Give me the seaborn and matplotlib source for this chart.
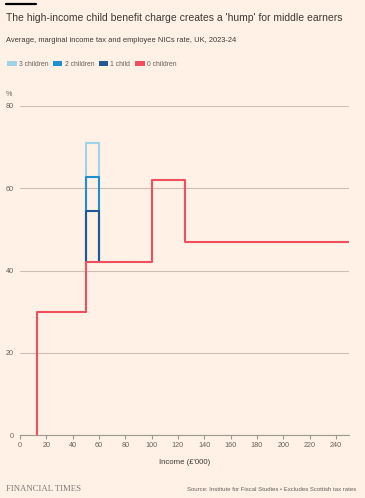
import matplotlib
matplotlib.use("Agg")
import matplotlib.pyplot as plt
from matplotlib.patches import Patch
import pandas as pd
import seaborn as sns

# income thresholds (£'000) and marginal rates (%)
no_child_income = [12.57, 12.57, 50.27, 100, 125.14, 250]
no_child_rate = [0, 30, 42, 62, 47, 47]

hicbc_income = [50, 50, 60]
one_child_rate = [42, 54.5, 42]
two_children_rate = [42, 62.8, 42]
three_children_rate = [42, 71, 42]

series = ["3 children", "2 children", "1 child", "0 children"]
colors = ["#9fd3e8", "#1f8fcf", "#1f5a94", "#f0505d"]

x_ticks = list(range(0, 260, 20))
y_ticks = [0, 20, 40, 60, 80]

rows = []
for name, xs, ys in [
    ("3 children", hicbc_income, three_children_rate),
    ("2 children", hicbc_income, two_children_rate),
    ("1 child", hicbc_income, one_child_rate),
    ("0 children", no_child_income, no_child_rate),
]:
    for x, y in zip(xs, ys):
        rows.append({"series": name, "income": x, "rate": y})
df = pd.DataFrame(rows)

bg = "#fff1e5"
text_dark = "#3d3936"
text_grey = "#66605c"

sns.set_theme(style="white")
plt.rcParams["font.family"] = ["Liberation Sans", "DejaVu Sans"]

fig = plt.figure(figsize=(3.65, 4.98), dpi=100, facecolor=bg)
ax = fig.add_axes([20 / 365, 63 / 498, 329 / 365, 329 / 498], facecolor=bg)

for name, col in zip(series, colors):
    sub = df[df["series"] == name]
    sns.lineplot(data=sub, x="income", y="rate", sort=False, estimator=None,
                 color=col, linewidth=1.5, drawstyle="steps-post", ax=ax,
                 legend=False)

ax.set_xlim(0, 250)
ax.set_ylim(0, 80)
ax.set_xticks(x_ticks)
ax.set_yticks(y_ticks)
ax.grid(axis="y", color="#cdbfb3", linewidth=0.8)
ax.grid(axis="x", visible=False)
for s in ["top", "right", "left"]:
    ax.spines[s].set_visible(False)
ax.spines["bottom"].set_color("#a09890")
ax.spines["bottom"].set_linewidth(0.8)
ax.tick_params(axis="x", bottom=True, length=3, width=0.8, color="#a09890",
               labelsize=5.2, labelcolor=text_grey, pad=2)
ax.tick_params(axis="y", left=False, length=0, labelsize=5.2,
               labelcolor=text_grey, pad=4.5)
ax.set_xlabel("Income (£'000)", fontsize=5.6, color=text_dark, labelpad=7)
ax.set_ylabel("")

fig.text(6 / 365, 1 - 94 / 498, "%", fontsize=5.2, color=text_grey, va="center")

# header
fig.add_artist(plt.Line2D([6 / 365, 36 / 365], [1 - 4.5 / 498, 1 - 4.5 / 498],
                          color="black", linewidth=1.6))
fig.text(6 / 365, 1 - 18 / 498,
         "The high-income child benefit charge creates a 'hump' for middle earners",
         fontsize=7.45, color=text_dark, va="center")
fig.text(6 / 365, 1 - 41 / 498,
         "Average, marginal income tax and employee NICs rate, UK, 2023-24",
         fontsize=5.45, color=text_dark, va="center")

handles = [Patch(facecolor=c, edgecolor="none", label=n) for n, c in zip(series, colors)]
fig.legend(handles=handles, loc="center left", bbox_to_anchor=(1 / 365, 1 - 64 / 498),
           ncol=4, frameon=False, fontsize=4.9, handlelength=1.4, handleheight=0.7,
           handletextpad=0.3, columnspacing=0.7, labelcolor=text_grey)

# footer
fig.text(6 / 365, 1 - 489 / 498, "FINANCIAL TIMES", fontsize=6.3,
         family=["Liberation Serif", "DejaVu Serif"], color="#7f7a76", va="center")
fig.text(356 / 365, 1 - 489 / 498,
         "Source: Institute for Fiscal Studies \u2022 Excludes Scottish tax rates",
         fontsize=4.35, color=text_grey, ha="right", va="center")

fig.savefig("out.png", dpi=100, facecolor=bg)
